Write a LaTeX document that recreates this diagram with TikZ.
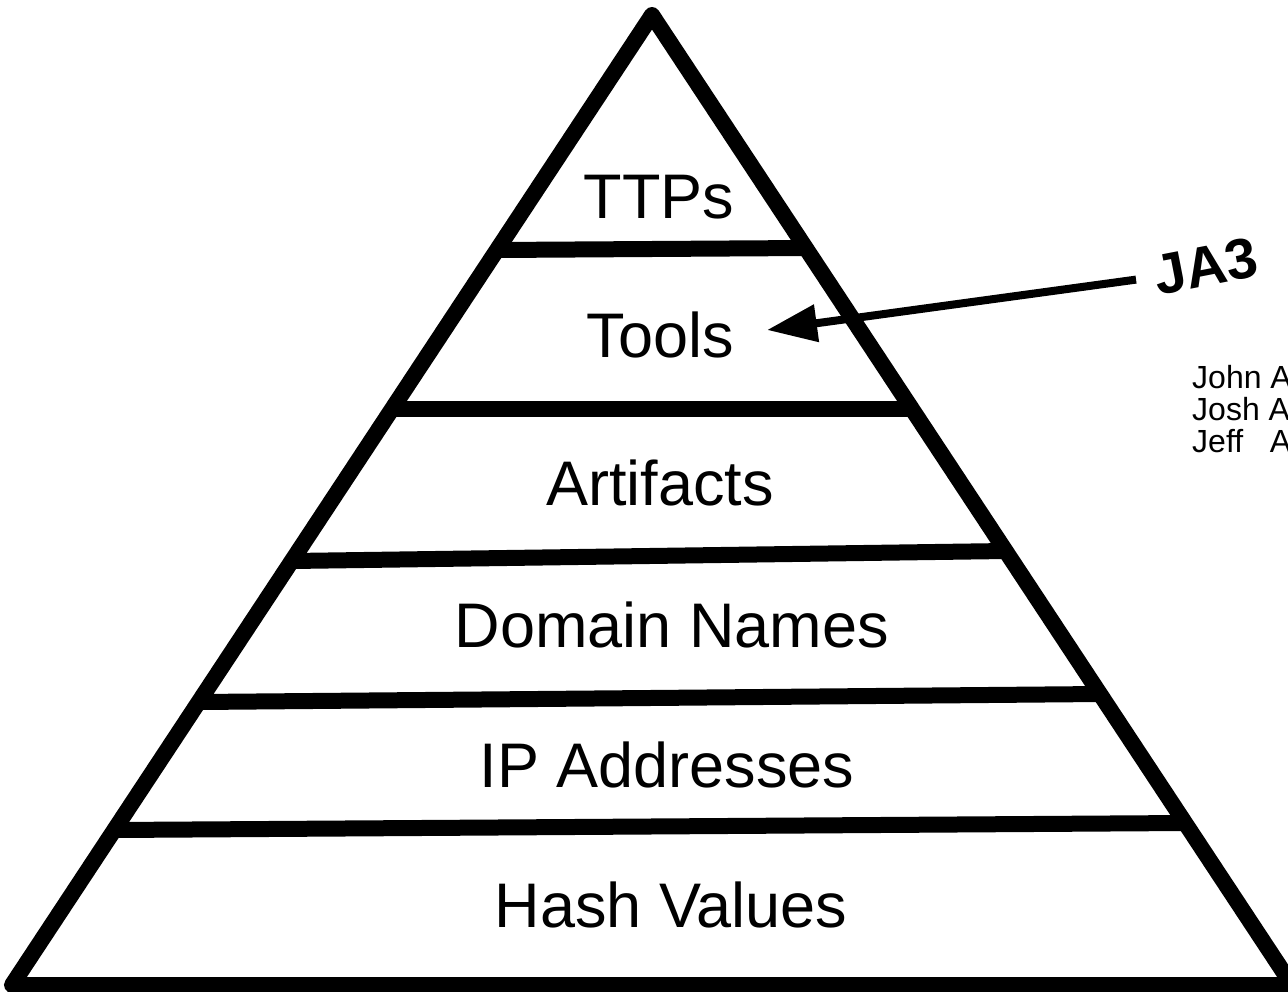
\documentclass[tikz,border=0pt]{standalone}
\usepackage{fontspec}
\setmainfont{Liberation Sans}
\usetikzlibrary{arrows.meta}

\begin{document}
\begin{tikzpicture}[x=1pt,y=-1pt]
\tikzstyle{band}=[line width=16pt]
\tikzstyle{level}=[font=\fontsize{63}{75}\selectfont]
\tikzstyle{tag}=[font=\bfseries\fontsize{57}{68}\selectfont, rotate=11, inner sep=3pt, outer sep=16pt]
\tikzstyle{note}=[font=\fontsize{32}{38}\selectfont, anchor=base west, inner sep=0pt]
\tikzstyle{pointer}=[line width=8pt, -{Triangle[length=50pt,width=36pt]}]

\useasboundingbox (0,0) rectangle (1288,991);
\clip (0,0) rectangle (1288,991);

% pyramid and its levels
\draw[band, line join=round] (652,15) -- (1292,985) -- (12,985) -- cycle;
\draw[band] (497,250) -- (806,248);
\draw[band] (392,409) -- (912,409);
\draw[band] (292,561) -- (1006,551);
\draw[band] (199,702) -- (1100,694);
\draw[band] (114,830) -- (1185,823);

\draw (659,197) node[level] (ttps) {TTPs};
\draw (660,335) node[level] (tools) {Tools};
\draw (660,483) node[level] (artifacts) {Artifacts};
\draw (672,625) node[level] (domains) {Domain Names};
\draw (667,765) node[level] (ips) {IP Addresses};
\draw (671,905) node[level] (hashes) {Hash Values};

% JA3 pointing at the tools level
\draw (1206,266) node[tag] (ja3) {JA3};
\coordinate (tip) at (767,330);
\draw[pointer] (ja3.west) -- (tip);

\draw (1192,388) node[note] (john) {John A};
\draw (1192,420) node[note] (josh) {Josh A};
\draw (1192,452) node[note] (jeff) {Jeff\ \ \ A};
\end{tikzpicture}
\end{document}
